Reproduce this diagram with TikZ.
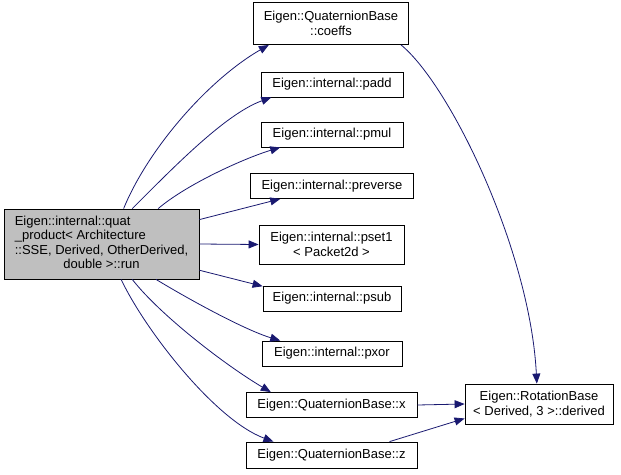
\documentclass[tikz,border=0pt]{standalone}
\usepackage{fontspec}
\setmainfont{Liberation Sans}
\usetikzlibrary{arrows.meta}
\definecolor{edgeblue}{RGB}{25,25,112}
\definecolor{callgray}{RGB}{191,191,191}
\tikzset{
  fn/.style={draw=black, line width=0.8pt, fill=white, inner sep=0pt, align=center, font=\fontsize{13}{14.5}\selectfont},
  call/.style={draw=edgeblue, line width=0.8pt, -{Triangle[length=10pt,width=8pt,fill=edgeblue]}},
}
\begin{document}
\begin{tikzpicture}[x=1pt,y=-1pt]
\useasboundingbox (0,0) rectangle (621,474);
% caller
\node[fn, fill=callgray, minimum width=195, minimum height=70] (run) at (101.5,244)
  {\begin{tabular}{@{}l@{}}Eigen::internal::quat\\ \_product< Architecture\\ ::SSE, Derived, OtherDerived,\\ \multicolumn{1}{@{}c@{}}{double >::run}\end{tabular}};
% callees
\node[fn, minimum width=155, minimum height=42] (coeffs) at (331,23.5) {Eigen::QuaternionBase\\ ::coeffs};
\foreach \name/\y/\w in {padd/84.5/142, pmul/134.5/142, preverse/186/163, psub/298.5/138, pxor/353.5/140}
  \node[fn, minimum width=\w, minimum height=25] (\name) at (332,\y) {Eigen::internal::\name};
\node[fn, minimum width=145, minimum height=39] (pset1) at (331.5,244.5) {Eigen::internal::pset1\\ < Packet2d >};
\node[fn, minimum width=171, minimum height=25] (qx) at (331.5,405) {Eigen::QuaternionBase::x};
\node[fn, minimum width=171, minimum height=26] (qz) at (331.5,455) {Eigen::QuaternionBase::z};
\node[fn, minimum width=148, minimum height=40] (rot) at (539,404) {Eigen::RotationBase\\ < Derived, 3 >::derived};
% calls
\draw[call] (run.58) .. controls (148,149) and (208,80) .. (coeffs.199);
\draw[call] (run.49) .. controls (172,169) and (225,114) .. (padd.192);
\draw[call] (run.32) .. controls (187,184) and (245,158) .. (pmul.194);
\draw[call] (run.14.5) -- (preverse.194);
\draw[call] (run.east) -- (pset1.west);
\draw[call] (run.-15) -- (psub.170);
\draw[call] (run.-33) .. controls (190,300) and (245,330) .. (pxor.166);
\draw[call] (run.-49) .. controls (160,315) and (225,365) .. (qx.168.6);
\draw[call] (run.-61) .. controls (145,330) and (215,420) .. (qz.167.7);
\draw[call] (coeffs.-17.3) .. controls (450,85) and (530,250) .. (rot.96);
\draw[call] (qx.east) -- (rot.west);
\draw[call] (qz.13.7) -- (rot.191.5);
\end{tikzpicture}
\end{document}
